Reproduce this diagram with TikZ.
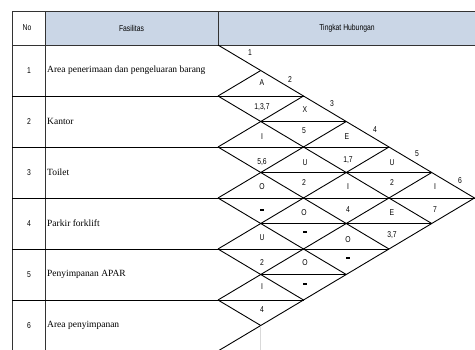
\documentclass[tikz,border=0pt]{standalone}
\usepackage{fontspec}
\setmainfont{Liberation Serif}
\newfontfamily\narrowsans[FakeStretch=0.8]{Liberation Sans}
\definecolor{headblue}{HTML}{CAD6E6}
\tikzset{
  lbl/.style={font=\narrowsans\fontsize{8.5}{9}\selectfont, inner sep=0pt, anchor=center},
  fac/.style={font=\fontsize{9.5}{10}\selectfont, inner sep=0pt, anchor=west},
  grid/.style={line width=0.9pt, black},
  tab/.style={line width=0.9pt, black!80},
}
\newcommand{\gx}[1]{218+42.75*(#1)}
\newcommand{\gy}[1]{45+25.5*(#1)}
\newcommand{\dsh}{\rule[2.2pt]{3.4pt}{1.2pt}}
\begin{document}
\begin{tikzpicture}[x=1pt,y=-1pt]
\clip (0,0) rectangle (475,349);
\useasboundingbox (0,0) rectangle (475,349);
% header fill
\fill[headblue] (45,11) rectangle (476,45);
% table lines
\draw[tab] (12,11) -- (476,11);
\draw[tab] (12,45) -- (476,45);
\draw[tab] (12,11) -- (12,350);
\draw[tab] (45,11) -- (45,350);
\draw[tab] (218,11) -- (218,45);
% header texts
\node[lbl] (hno) at (27,28) {No};
\node[lbl] (hfas) at (131.5,28) {Fasilitas};
\node[lbl] (hting) at (347,28) {Tingkat Hubungan};
% rows
\foreach \t [count=\i] in {Area penerimaan dan pengeluaran barang, Kantor, Toilet, Parkir forklift, Penyimpanan APAR, Area penyimpanan}{
  \node[lbl] (no\i) at (29,{70.5+51*(\i-1)}) {\i};
  \node[fac] (f\i) at (47,{70.5+51*(\i-1)}) {\t};
}
% row boundary horizontals
\foreach \m/\k in {2/2,4/4,6/6,8/4,10/2}{
  \draw[grid] (12,{\gy{\m}}) -- ({\gx{\k}},{\gy{\m}});
}
% mid horizontals
\foreach \m/\k in {3/3,5/5,7/5,9/3}{
  \draw[grid] ({\gx{1}},{\gy{\m}}) -- ({\gx{\k}},{\gy{\m}});
}
% outer diagonals
\draw[grid] ({\gx{0}},{\gy{0}}) -- ({\gx{6}},{\gy{6}}) -- ({\gx{0}},{\gy{12}});
% inner diagonals
\foreach \j in {1,...,5}{
  \draw[grid] ({\gx{0}},{\gy{2*\j}}) -- ({\gx{6-\j}},{\gy{6+\j}});
  \draw[grid] ({\gx{0}},{\gy{2*\j}}) -- ({\gx{\j}},{\gy{\j}});
}
% faint line
\draw[black!15, line width=0.5pt] (260.5,326) -- (260.5,350);
% diagonal labels
\foreach \t/\x/\y [count=\n] in {1/250/53, 2/290/80, 3/332/104, 4/375/130, 5/417/154, 6/460/181}{
  \node[lbl] (d\n) at (\x,\y) {\t};
}
% cell labels
\foreach \t/\x/\y [count=\n] in {
  A/262/83, {1,3,7}/262/107, X/305/110,
  I/262/137, 5/304/131, E/347/137,
  {5,6}/262/162, U/305/163, {1,7}/348/160, U/392/163,
  O/262/187, 2/304/183, I/348/187, 2/392/183, I/435/187,
  \dsh/262/211, O/304/213, 4/348/210, E/392/213, 7/435/210,
  U/262/238, \dsh/305/233, O/348/240, {3,7}/392/235,
  2/262/263, O/305/263, \dsh/348/259,
  I/262/287, \dsh/305/285,
  4/262/310}{
  \node[lbl] (c\n) at (\x,\y) {\t};
}
\end{tikzpicture}
\end{document}
